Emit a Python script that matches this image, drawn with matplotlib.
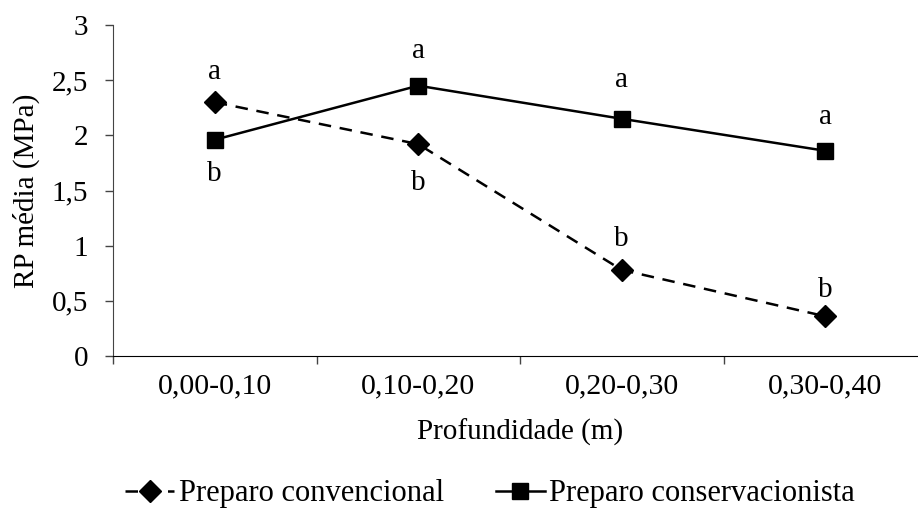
import matplotlib
matplotlib.use("Agg")
import matplotlib.pyplot as plt
from matplotlib.ticker import FixedLocator, FuncFormatter

plt.rcParams['font.family'] = ['Liberation Serif', 'DejaVu Serif']

categories = ["0,00-0,10", "0,10-0,20", "0,20-0,30", "0,30-0,40"]
convencional = [2.30, 1.92, 0.78, 0.36]
conservacionista = [1.96, 2.45, 2.15, 1.86]
letters_conv = ["a", "b", "b", "b"]
letters_cons = ["b", "a", "a", "a"]

FS = 21

fig = plt.figure(figsize=(9.18, 5.14), dpi=100)
ax = fig.add_axes([113/918, (514-356)/514, 814/918, 331/514])

x = list(range(len(categories)))
ax.plot(x, convencional, color='black', lw=1.8, ls=(0, (5, 3.5)), marker='D',
        markersize=11, label='Preparo convencional', clip_on=False)
ax.plot(x, conservacionista, color='black', lw=1.8, ls='-', marker='s',
        markersize=11, label='Preparo conservacionista', clip_on=False)

# letter offsets in points (positive = above)
off_conv = [22, -28, 22, 19]
off_cons = [-25, 25, 28, 24]
for i in x:
    ax.annotate(letters_conv[i], (i, convencional[i]), xytext=(0, off_conv[i]),
                textcoords='offset points', ha='center', va='center', fontsize=FS)
    ax.annotate(letters_cons[i], (i, conservacionista[i]), xytext=(0, off_cons[i]),
                textcoords='offset points', ha='center', va='center', fontsize=FS)

ax.set_xlim(-0.5, 3.5)
ax.set_ylim(0, 3)
ax.set_yticks([0, 0.5, 1, 1.5, 2, 2.5, 3])
ax.yaxis.set_major_formatter(FuncFormatter(lambda v, p: ('%g' % v).replace('.', ',')))
ax.xaxis.set_major_locator(FixedLocator([-0.5, 0.5, 1.5, 2.5, 3.5]))
ax.xaxis.set_major_formatter(FuncFormatter(lambda v, p: ''))
ax.set_xticks(x, minor=True)
ax.set_xticklabels(categories, minor=True, fontsize=21.5)
ax.tick_params(axis='x', which='minor', length=0, pad=12.5)
ax.tick_params(axis='x', which='major', length=6, width=1, color='#444444', direction='out')
ax.tick_params(axis='y', length=6, width=1, color='#444444', labelsize=FS, pad=12)

for s in ['top', 'right']:
    ax.spines[s].set_visible(False)
ax.spines['left'].set_color('#444444')
ax.spines['bottom'].set_color('black')

ax.set_ylabel('RP média (MPa)', fontsize=FS, labelpad=8)
ax.set_xlabel('Profundidade (m)', fontsize=FS, labelpad=14)

fig.legend(loc='center', bbox_to_anchor=(490/918, 1 - 494/514), ncol=2, frameon=False,
           fontsize=22, handlelength=1.6, columnspacing=1.7, handletextpad=0.15)

fig.savefig('out.png', dpi=100)
